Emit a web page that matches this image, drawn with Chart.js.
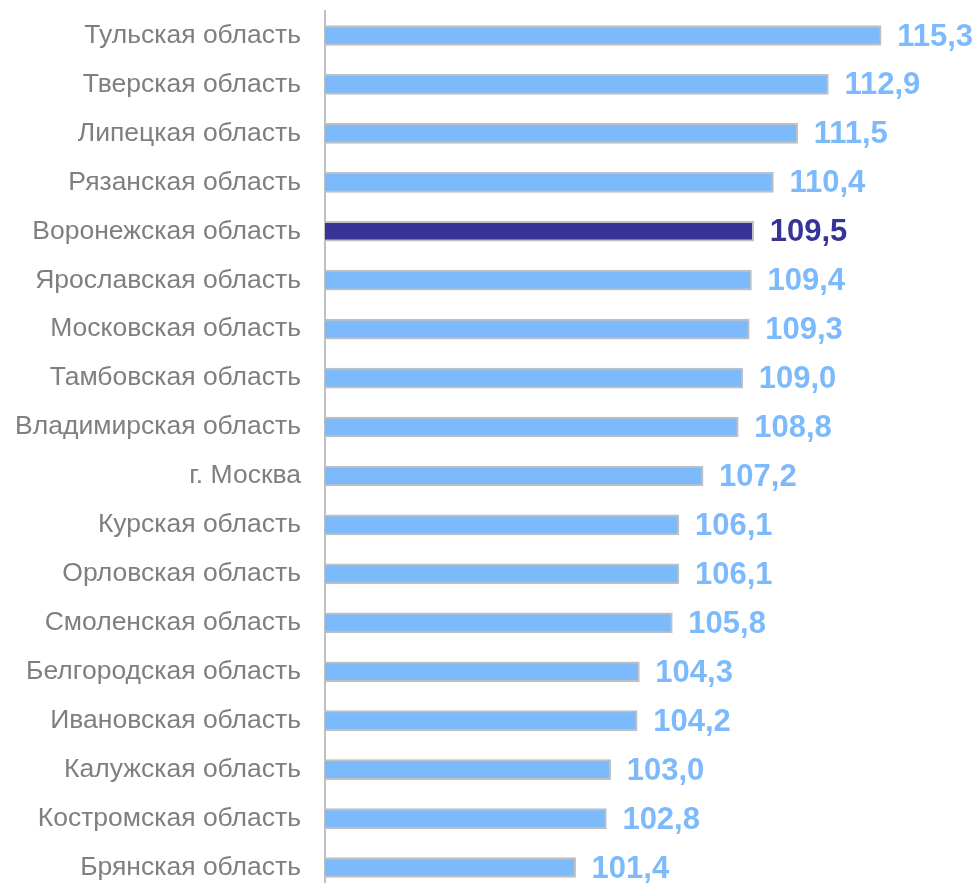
<!DOCTYPE html>
<html>
<head>
<meta charset="utf-8">
<script src="https://cdn.jsdelivr.net/npm/chart.js@4/dist/chart.umd.min.js"></script>
<style>
    html, body { margin: 0; padding: 0; background: #fff; overflow: hidden; }
    #wrap { width: 979px; height: 892px; position: relative; }
</style>
</head>
<body>
<div id="wrap"><canvas id="regionsChart"></canvas></div>
<script>
const regions = [
    'Тульская область', 'Тверская область', 'Липецкая область', 'Рязанская область',
    'Воронежская область', 'Ярославская область', 'Московская область', 'Тамбовская область',
    'Владимирская область', 'г. Москва', 'Курская область', 'Орловская область',
    'Смоленская область', 'Белгородская область', 'Ивановская область', 'Калужская область',
    'Костромская область', 'Брянская область'
];
const indexValues = [
    115.3, 112.9, 111.5, 110.4,
    109.5, 109.4, 109.3, 109.0,
    108.8, 107.2, 106.1, 106.1,
    105.8, 104.3, 104.2, 103.0,
    102.8, 101.4
];
const highlightRegion = 'Воронежская область';

const lightBlue = '#7dbafc';
const darkBlue = '#373496';
const barColors = regions.map(r => r === highlightRegion ? darkBlue : lightBlue);

// подписи значений справа от столбиков
const valueLabels = {
    id: 'valueLabels',
    afterDatasetsDraw(chart) {
        const ctx = chart.ctx;
        const meta = chart.getDatasetMeta(0);
        ctx.save();
        ctx.font = 'bold 31px "Liberation Sans", Arial, sans-serif';
        ctx.textAlign = 'left';
        ctx.textBaseline = 'middle';
        meta.data.forEach((bar, i) => {
            ctx.fillStyle = barColors[i];
            ctx.fillText(indexValues[i].toFixed(1).replace('.', ','), bar.x + 16, bar.y + 1.5);
        });
        ctx.restore();
    }
};

new Chart(document.getElementById('regionsChart'), {
    type: 'bar',
    data: {
        labels: regions,
        datasets: [{
            data: indexValues,
            backgroundColor: barColors,
            borderColor: '#c0c0c0',
            borderWidth: 2,
            borderSkipped: false,
            barThickness: 20
        }]
    },
    options: {
        indexAxis: 'y',
        responsive: true,
        maintainAspectRatio: false,
        animation: false,
        layout: { padding: { top: 11, right: 0, bottom: 0, left: 0 } },
        plugins: {
            legend: { display: false },
            tooltip: { enabled: false }
        },
        scales: {
            x: {
                display: false,
                min: 90,
                max: 119.75
            },
            y: {
                grid: { display: false, drawTicks: false },
                border: { display: true, color: '#bfbfbf', width: 2 },
                ticks: {
                    color: '#7f7f7f',
                    padding: 24,
                    font: { family: '"Liberation Sans", Arial, sans-serif', size: 26.5 }
                },
                afterFit(scale) {
                    scale.width = 325;
                    scale.paddingTop = 0;
                    scale.paddingBottom = 0;
                }
            }
        }
    },
    plugins: [valueLabels]
});
</script>
</body>
</html>
